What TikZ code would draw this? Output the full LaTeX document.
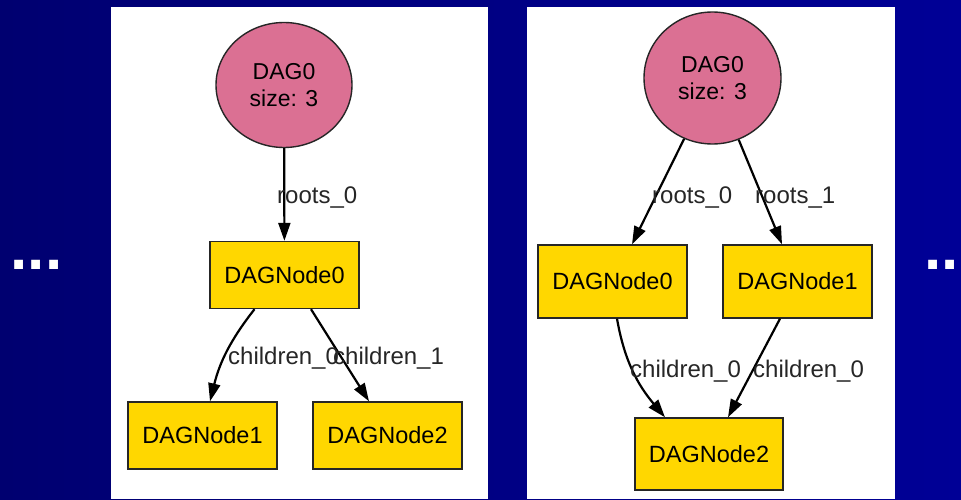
\documentclass[tikz,border=0pt]{standalone}
\usepackage{fontspec}
\setmainfont{Liberation Sans}
\usetikzlibrary{shapes.geometric,arrows.meta}
\definecolor{slideleft}{RGB}{0,0,112}
\definecolor{slideright}{RGB}{0,0,150}
\definecolor{dagpink}{RGB}{219,112,147}
\definecolor{daggold}{RGB}{255,215,0}

\begin{document}
\begin{tikzpicture}
            [x=1pt,y=1pt,
             dag/.style={ellipse,draw=black!85,line width=1.4pt,fill=dagpink,inner sep=0pt,
               minimum width=136pt,minimum height=125pt,align=center,
               font=\fontsize{23}{27}\selectfont},
             dagnode/.style={rectangle,draw=black!85,line width=1.4pt,fill=daggold,
               minimum width=149pt,minimum height=67pt,font=\fontsize{23.5}{28}\selectfont},
             edgelabel/.style={inner sep=0pt,anchor=base west,text=black!85,
               font=\fontsize{24}{28}\selectfont},
             link/.style={line width=2.2pt,draw=black,-{Triangle[length=18pt,width=12pt]}},
             dots/.style={inner sep=0pt,anchor=base west,text=white,
               font=\fontsize{62}{62}\selectfont\bfseries}]
            % slide and the two panels
            \clip (0,0) rectangle (961,499);
            \shade[left color=slideleft,right color=slideright] (0,0) rectangle (961,499);
            \fill[white] (111,0) rectangle (488,492);
            \fill[white] (527,0) rectangle (895,492);
            \node[dots] (dotsL) at (10.5,230) {...};
            \node[dots] (dotsR) at (924.5,230) {...};

            % left graph: a tree
            \node[dag] (LC) at (284,414) {DAG0\\size: 3};
            \node[dagnode] (L0) at (284.5,224) {DAGNode0};
            \node[dagnode] (L1) at (202.5,63.5) {DAGNode1};
            \node[dagnode] (L2) at (387.5,63.5) {DAGNode2};
            \draw[link] (LC) -- (L0);
            \draw[link] ([xshift=-30pt]L0.south) to[out=232,in=76] ([xshift=7.5pt]L1.north);
            \draw[link] ([xshift=26.5pt]L0.south) -- ([xshift=-18.5pt]L2.north);
            \node[edgelabel] (Lr0) at (277,296) {roots\_0};
            \node[edgelabel] (Lc0) at (228,135) {children\_0};
            \node[edgelabel] (Lc1) at (333,135) {children\_1};

            % right graph: a shared child
            \node[dag,minimum width=137pt,minimum height=132pt] (RC) at (712.5,421) {DAG0\\size: 3};
            \node[dagnode,minimum height=73pt] (R0) at (612.5,217.5) {DAGNode0};
            \node[dagnode,minimum height=73pt] (R1) at (797.5,217.5) {DAGNode1};
            \node[dagnode,minimum width=148pt,minimum height=72pt] (R2) at (709,45) {DAGNode2};
            \draw[link] (RC.245) -- ([xshift=19.5pt]R0.north);
            \draw[link] (RC.293) -- ([xshift=-15.5pt]R1.north);
            \draw[link] ([xshift=4.5pt]R0.south) to[out=280,in=130] ([xshift=-44pt]R2.north);
            \draw[link] ([xshift=-17.5pt]R1.south) -- ([xshift=19pt]R2.north);
            \node[edgelabel] (Rr0) at (652,296) {roots\_0};
            \node[edgelabel] (Rr1) at (755,296) {roots\_1};
            \node[edgelabel] (Rc0) at (630,122) {children\_0};
            \node[edgelabel] (Rc1) at (753,122) {children\_0};

        \end{tikzpicture}
\end{document}
